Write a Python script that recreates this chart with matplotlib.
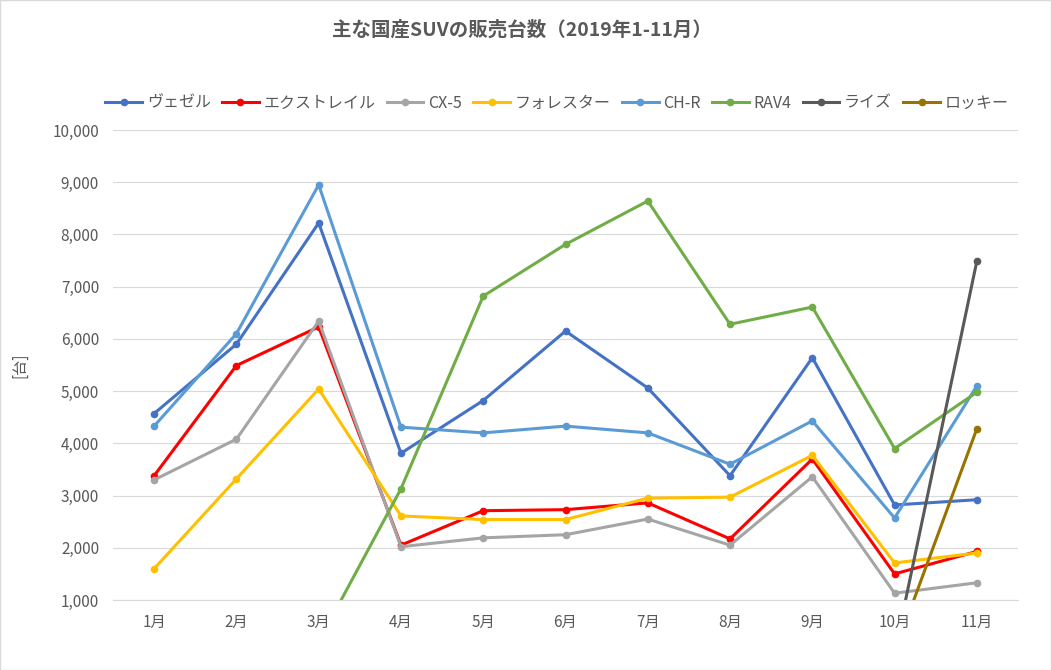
import numpy as np
import matplotlib.pyplot as plt
from matplotlib.patches import Rectangle

plt.rcParams['font.family'] = 'Noto Sans CJK JP'

# ---- data ----
months = ['1月', '2月', '3月', '4月', '5月', '6月', '7月', '8月', '9月', '10月', '11月']
vezel = [4570, 5900, 8220, 3810, 4820, 6150, 5060, 3380, 5640, 2820, 2920]
xtrail = [3380, 5490, 6230, 2050, 2710, 2730, 2860, 2170, 3700, 1500, 1930]
cx5 = [3300, 4080, 6340, 2020, 2190, 2250, 2550, 2050, 3360, 1130, 1330]
forester = [1600, 3320, 5040, 2610, 2540, 2540, 2950, 2970, 3770, 1710, 1900]
chr_ = [4330, 6100, 8950, 4310, 4200, 4330, 4200, 3600, 4430, 2570, 5100]
rav4 = [np.nan, np.nan, 200, 3130, 6820, 7810, 8640, 6280, 6610, 3900, 4980]
raize = [np.nan] * 9 + [0, 7490]
rocky = [np.nan] * 9 + [0, 4280]

series = [
    ('ヴェゼル', vezel, '#4472C4'),
    ('エクストレイル', xtrail, '#FF0000'),
    ('CX-5', cx5, '#A5A5A5'),
    ('フォレスター', forester, '#FFC000'),
    ('CH-R', chr_, '#5B9BD5'),
    ('RAV4', rav4, '#70AD47'),
    ('ライズ', raize, '#595959'),
    ('ロッキー', rocky, '#997300'),
]

fig = plt.figure(figsize=(10.51, 6.7), dpi=100)
ax = fig.add_axes([113 / 1051, 1 - 600 / 670, 905 / 1051, 470 / 670])
x = np.arange(len(months))
for name, vals, col in series:
    ax.plot(x, vals, color=col, lw=2.2, marker='o', ms=4.5, label=name)

ax.set_xlim(-0.5, 10.5)
ax.set_ylim(1000, 10000)
ax.set_yticks(range(1000, 10001, 1000))
ax.set_yticklabels([f'{v:,}' for v in range(1000, 10001, 1000)])
ax.set_xticks(x)
ax.set_xticklabels(months)
ax.tick_params(length=0, labelsize=11, colors='#595959', pad=10)
ax.grid(axis='y', color='#D9D9D9', lw=0.8)
ax.set_axisbelow(True)
for s in ['top', 'right', 'left']:
    ax.spines[s].set_visible(False)
ax.spines['bottom'].set_color('#D9D9D9')

fig.text(20 / 1051, 1 - 365 / 670, '[台]', rotation=90, ha='center', va='center',
         fontsize=11, color='#595959')
fig.text(0.497, 1 - 30 / 670, '主な国産SUVの販売台数（2019年1-11月）', ha='center',
         va='center', fontsize=14, fontweight='bold', color='#595959')
fig.legend(loc='center', bbox_to_anchor=(0.53, 1 - 103 / 670), ncol=8, frameon=False,
           fontsize=11.5, handlelength=2.3, columnspacing=0.7, handletextpad=0.3,
           labelcolor='#595959')
fig.patches.append(Rectangle((0, 0), 1, 1, transform=fig.transFigure, fill=False,
                             edgecolor='#D9D9D9', lw=1))

fig.savefig('out.png', dpi=100)
